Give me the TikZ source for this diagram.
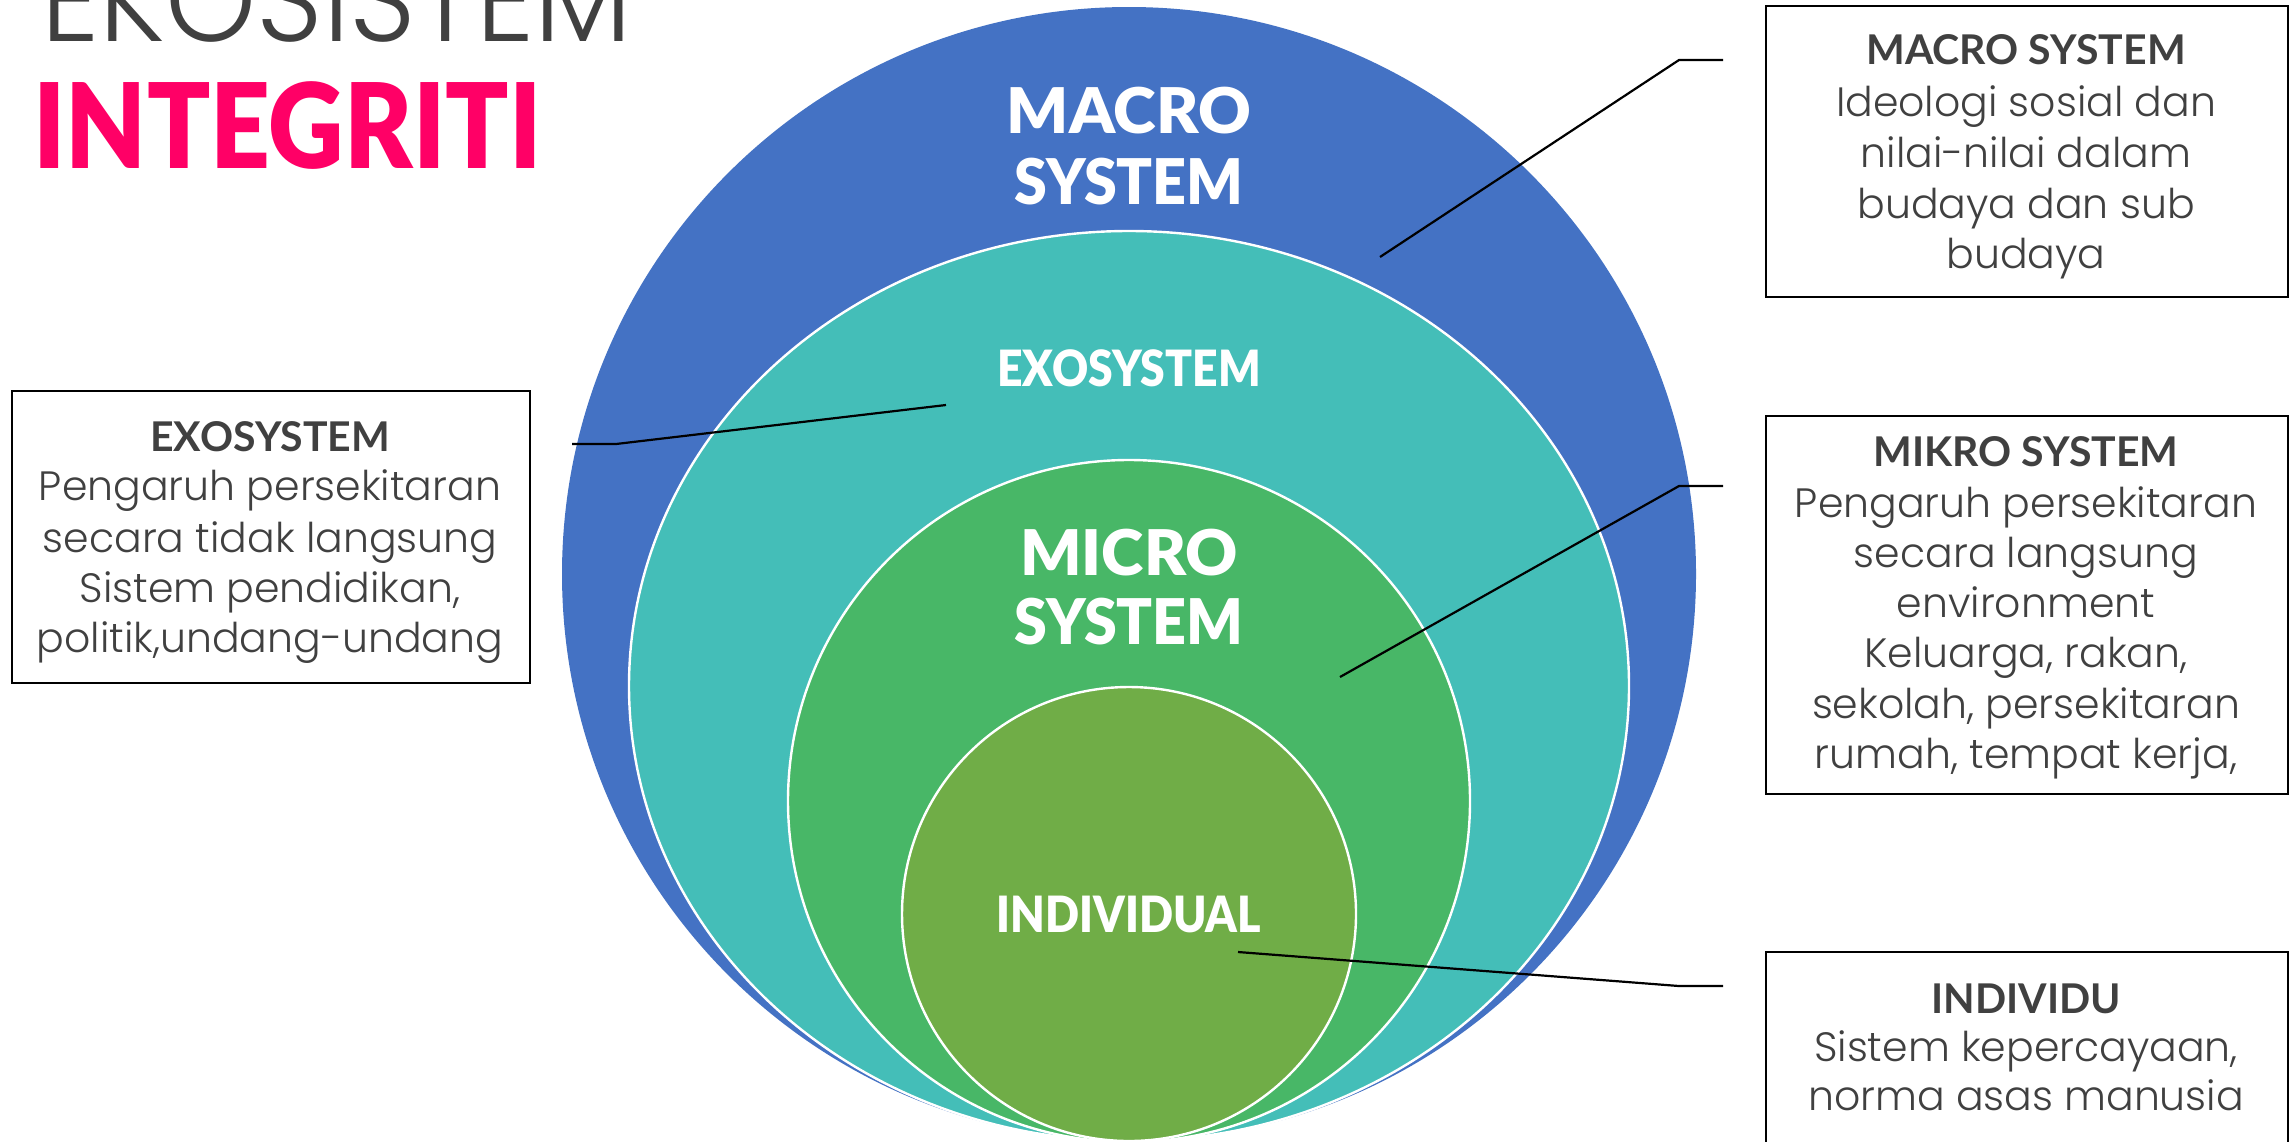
\documentclass[tikz,border=0pt]{standalone}
\usepackage{fontspec}
\setmainfont{Poppins Light}
\newfontfamily\hdfont{Lato}
\newfontfamily\blkfont{Lato Black}
\definecolor{macroblue}{RGB}{68,114,196}
\definecolor{exoteal}{RGB}{68,190,184}
\definecolor{microgreen}{RGB}{72,183,103}
\definecolor{indolive}{RGB}{112,173,71}
\definecolor{txtgray}{RGB}{64,64,64}
\definecolor{titlepink}{RGB}{255,0,102}
\begin{document}
\begin{tikzpicture}[x=0.5pt,y=-0.5pt,
  ring/.style={draw=white,line width=1.2pt},
  lblbig/.style={text=white,inner sep=0,anchor=base,font=\blkfont\fontsize{31.5pt}{36pt}\selectfont},
  lblsmall/.style={text=white,inner sep=0,anchor=base,font=\blkfont\fontsize{25pt}{30pt}\selectfont},
  boxframe/.style={draw=black,line width=1.1pt,inner sep=0,anchor=north west},
  boxhead/.style={text=txtgray,inner sep=0,anchor=base,font=\hdfont\bfseries\fontsize{20.5pt}{24pt}\selectfont},
  boxbody/.style={text=txtgray,inner sep=0,anchor=base,font=\fontsize{20.5pt}{24pt}\selectfont},
  leader/.style={draw=black,line width=1.1pt,line join=round}
]
\useasboundingbox (0,0) rectangle (2289,1141);
\clip (0,0) rectangle (2289,1141);
\fill[white] (0,0) rectangle (2289,1141);

% nested systems
\fill[macroblue] (1129,574) circle[radius=567];
\path[fill=exoteal,ring] (1129,686) ellipse[x radius=500,y radius=455];
\path[fill=microgreen,ring] (1129,801) circle[radius=341];
\path[fill=indolive,ring] (1129,914) circle[radius=227];

% circle labels
\node[lblbig] (lmacro1) at (1129,133) {\scalebox{1.03}[1]{MACRO}};
\node[lblbig] (lmacro2) at (1129,204) {\scalebox{0.94}[1]{SYSTEM}};
\node[lblsmall] (lexo) at (1129,386) {\scalebox{0.89}[1]{EXOSYSTEM}};
\node[lblbig] (lmicro1) at (1129,575) {\scalebox{1.02}[1]{MICRO}};
\node[lblbig] (lmicro2) at (1129,644) {\scalebox{0.94}[1]{SYSTEM}};
\node[lblsmall] (lind) at (1129,932) {\scalebox{0.895}[1]{INDIVIDUAL}};

% title
\node[anchor=base west,inner sep=0,text=txtgray,font=\fontsize{61pt}{61pt}\selectfont] (title1) at (41,41) {\scalebox{0.95}[1]{EKOSISTEM}};
\node[anchor=base west,inner sep=0,text=titlepink,font=\blkfont\fontsize{59pt}{59pt}\selectfont] (title2) at (33,168) {\scalebox{0.885}[1]{INTEGRITI}};

% boxes
\node[boxframe,minimum width=261pt,minimum height=145.5pt] (macrobox) at (1765,5) {};
\node[boxframe,minimum width=261pt,minimum height=189pt] (mikrobox) at (1765,415) {};
\node[boxframe,minimum width=259pt,minimum height=146pt] (exobox) at (11,390) {};
\node[boxframe,minimum width=261pt,minimum height=120pt] (indbox) at (1765,951) {};

% macro box text
\node[boxhead] (ma0) at (2026,64) {MACRO SYSTEM};
\node[boxbody] (ma1) at (2026,116) {Ideologi sosial dan};
\node[boxbody] (ma2) at (2026,167) {nilai-nilai dalam};
\node[boxbody] (ma3) at (2026,218) {budaya dan sub};
\node[boxbody] (ma4) at (2026,268) {budaya};

% mikro box text
\node[boxhead] (mi0) at (2026,466) {MIKRO SYSTEM};
\node[boxbody] (mi1) at (2026,517) {Pengaruh persekitaran};
\node[boxbody] (mi2) at (2026,567) {secara langsung};
\node[boxbody] (mi3) at (2026,617) {environment};
\node[boxbody] (mi4) at (2026,667) {Keluarga, rakan,};
\node[boxbody] (mi5) at (2026,718) {sekolah, persekitaran};
\node[boxbody] (mi6) at (2026,768) {rumah, tempat kerja,};

% exo box text
\node[boxhead] (ex0) at (270,451) {EXOSYSTEM};
\node[boxbody] (ex1) at (270,500) {Pengaruh persekitaran};
\node[boxbody] (ex2) at (270,552) {secara tidak langsung};
\node[boxbody] (ex3) at (270,602) {Sistem pendidikan,};
\node[boxbody] (ex4) at (270,652) {politik,undang-undang};

% individu box text
\node[boxhead] (in0) at (2026,1013) {INDIVIDU};
\node[boxbody] (in1) at (2026,1061) {Sistem kepercayaan,};
\node[boxbody] (in2) at (2026,1110) {norma asas manusia};

% leader lines
\coordinate (cmaS) at (1723,60);
\coordinate (cmaK) at (1679,60);
\coordinate (cmaE) at (1380,257);
\coordinate (cexS) at (572,444);
\coordinate (cexK) at (616,444);
\coordinate (cexE) at (946,405);
\coordinate (cmiS) at (1723,486);
\coordinate (cmiK) at (1679,486);
\coordinate (cmiE) at (1340,677);
\coordinate (cinS) at (1723,986);
\coordinate (cinK) at (1679,986);
\coordinate (cinE) at (1238,952);
\draw[leader] (cmaS) -- (cmaK) -- (cmaE);
\draw[leader] (cexS) -- (cexK) -- (cexE);
\draw[leader] (cmiS) -- (cmiK) -- (cmiE);
\draw[leader] (cinS) -- (cinK) -- (cinE);
\end{tikzpicture}
\end{document}
